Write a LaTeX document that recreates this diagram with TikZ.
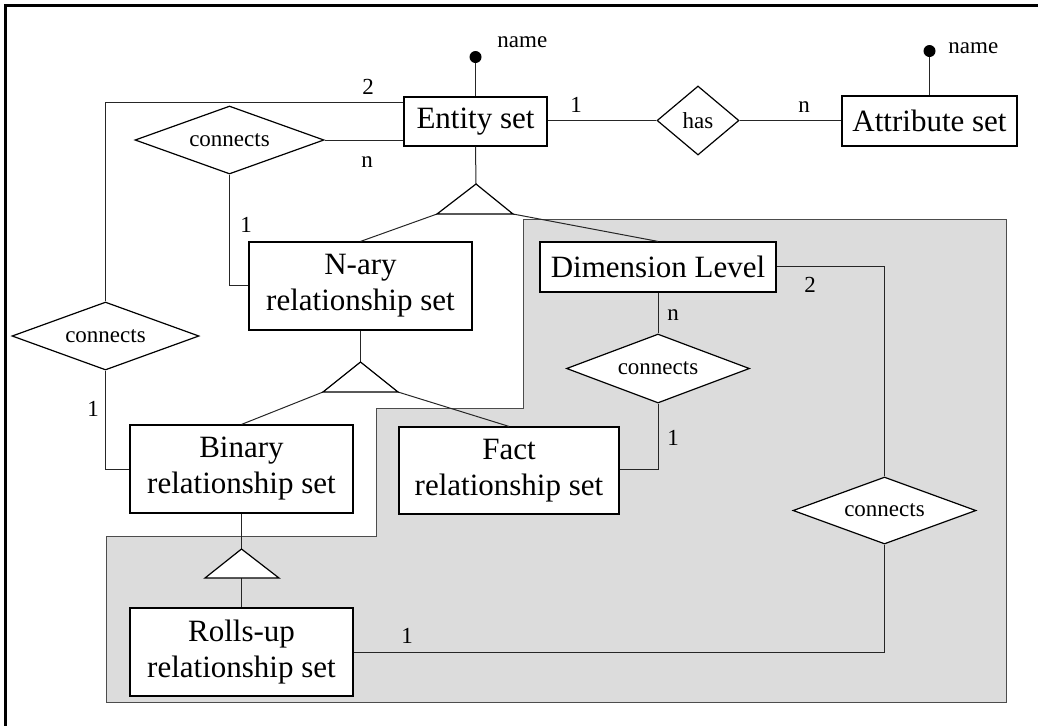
\documentclass[tikz,border=0pt]{standalone}
\usepackage{fontspec}
\setmainfont{Liberation Serif}
\usetikzlibrary{shapes.geometric}
\definecolor{regiongray}{HTML}{DCDCDC}
\tikzset{
  entbox/.style={draw=black, fill=white, line width=0.6pt, inner sep=0pt, align=center,
    font=\fontsize{15.5}{18}\selectfont},
  relbox/.style={draw=black, fill=white, line width=0.6pt, diamond, inner sep=0pt,
    font=\fontsize{11.5}{13}\selectfont},
  lbl/.style={inner sep=0pt, anchor=base, font=\fontsize{11.5}{13}\selectfont},
  conn/.style={draw=black!85, line width=0.5pt},
  isa/.style={draw=black, fill=white, line width=0.6pt, line join=miter},
}
\begin{document}
\begin{tikzpicture}[x=0.5pt, y=-0.5pt]
\useasboundingbox (0,0) rectangle (1038,725);
% outer frame (only top and left visible)
\draw[line width=1.4pt] (5.5,730) -- (5.5,5.5) -- (1045,5.5);
% shaded region
\filldraw[fill=regiongray, draw=black!70, line width=0.5pt]
  (523,219) -- (1006,219) -- (1006,702) -- (106,702) -- (106,536) -- (376,536) -- (376,408) -- (523,408) -- cycle;

% isa triangles
\coordinate (t1a) at (476,184); \coordinate (t1l) at (437,214); \coordinate (t1r) at (513,214);
\coordinate (t2a) at (360.5,362); \coordinate (t2l) at (323,392); \coordinate (t2r) at (398,392);
\coordinate (t3a) at (241.5,549); \coordinate (t3l) at (205,578); \coordinate (t3r) at (279,578);
\coordinate (t3b) at (241.5,578);

% entity-like boxes
\node[entbox, minimum width=71.5pt, minimum height=24.5pt] (ent) at (475.5,121.5) {Entity set};
\node[entbox, minimum width=87.5pt, minimum height=25pt] (attr) at (929.5,121) {Attribute set};
\node[entbox, minimum width=111.5pt, minimum height=44pt] (nary) at (360.5,286) {N-ary\\relationship set};
\node[entbox, minimum width=118pt, minimum height=25pt] (dl) at (658,267) {Dimension Level};
\node[entbox, minimum width=111.5pt, minimum height=44pt] (bin) at (241.5,469) {Binary\\relationship set};
\node[entbox, minimum width=110pt, minimum height=43.5pt] (fact) at (509,470.5) {Fact\\relationship set};
\node[entbox, minimum width=111.5pt, minimum height=44pt] (roll) at (241.5,652) {Rolls-up\\relationship set};

% relationship diamonds
\node[relbox, aspect=1.2, minimum width=41pt, minimum height=34.5pt] (has) at (698,120.5) {has};
\node[relbox, aspect=2.8, minimum width=94.5pt, minimum height=34pt] (c1) at (229.5,140) {connects};
\node[relbox, aspect=2.75, minimum width=93.5pt, minimum height=34pt] (c2) at (105.5,336) {connects};
\node[relbox, aspect=2.65, minimum width=91.5pt, minimum height=34.5pt] (c3) at (658,368.5) {connects};
\node[relbox, aspect=2.7, minimum width=91.5pt, minimum height=33.5pt] (c4) at (884.5,510.5) {connects};

% attribute dots
\coordinate (d1) at (475.5,57);
\coordinate (d2) at (929.5,51);
\draw[conn] (d1) -- (ent.north);
\draw[conn] (d2) -- (attr.north);
\fill (d1) circle (3pt);
\fill (d2) circle (3pt);
\node[lbl, anchor=base west] (nm1) at (497,47) {name};
\node[lbl, anchor=base west] (nm2) at (948,53) {name};

% generalisation lines
\draw[conn] (ent.south) -- (t1a);
\draw[conn] (t1l) -- (nary.north);
\draw[conn] (t1r) -- (dl.north);
\draw[conn] (nary.south) -- (t2a);
\draw[conn] (t2l) -- (bin.north);
\draw[conn] (t2r) -- (fact.north);
\draw[conn] (bin.south) -- (t3a);
\draw[conn] (t3b) -- (roll.north);
\draw[isa] (t1a) -- (t1r) -- (t1l) -- cycle;
\draw[isa] (t2a) -- (t2r) -- (t2l) -- cycle;
\draw[isa] (t3a) -- (t3r) -- (t3l) -- cycle;

% relationship connectors
\coordinate (k1) at (105.5,102);
\draw[conn] (ent.west |- k1) -- (k1) -- (c2.north);
\draw[conn] (c1.east) -- (c1.east -| ent.west);
\coordinate (k2) at (229.5,285);
\draw[conn] (c1.south) -- (k2) -- (k2 -| nary.west);
\coordinate (k3) at (105.5,469);
\draw[conn] (c2.south) -- (k3) -- (bin.west);
\draw[conn] (has.west -| ent.east) -- (has.west);
\draw[conn] (has.east) -- (has.east -| attr.west);
\coordinate (k4) at (884.5,266);
\draw[conn] (dl.east |- k4) -- (k4) -- (c4.north);
\draw[conn] (dl.south) -- (c3.north);
\coordinate (k5) at (658,469);
\draw[conn] (c3.south) -- (k5) -- (k5 -| fact.east);
\coordinate (k6) at (884.5,652);
\draw[conn] (roll.east) -- (k6) -- (c4.south);

% cardinality labels
\node[lbl] (l1) at (368,94) {2};
\node[lbl] (l2) at (367,167) {n};
\node[lbl] (l3) at (246,232) {1};
\node[lbl] (l4) at (576,112) {1};
\node[lbl] (l5) at (804,112) {n};
\node[lbl] (l6) at (93,416) {1};
\node[lbl] (l7) at (673,320) {n};
\node[lbl] (l8) at (810,292) {2};
\node[lbl] (l9) at (673,445) {1};
\node[lbl] (l10) at (407,643) {1};
\end{tikzpicture}
\end{document}
